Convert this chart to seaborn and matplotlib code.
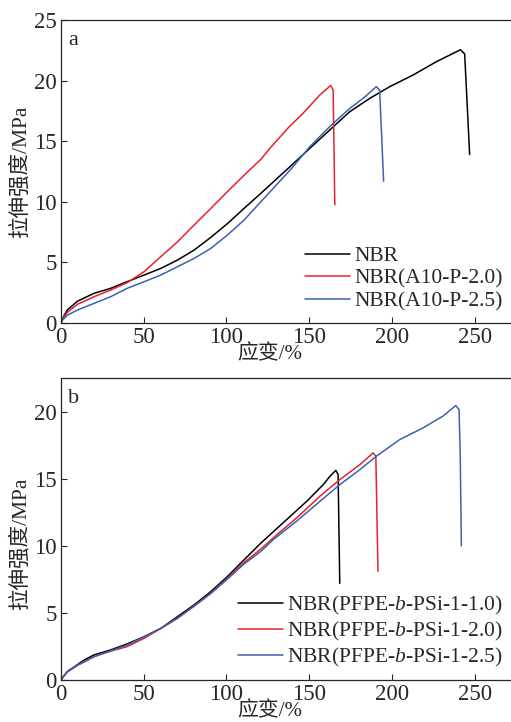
import matplotlib
matplotlib.use("Agg")
import matplotlib.pyplot as plt
import seaborn as sns
import pandas as pd

# ---- data: panel a (strain %, tensile strength MPa) ----
a_nbr_x = [0, 1, 2, 4, 10, 20, 30, 40, 50.3, 60.4, 70.5, 80.5, 90.6, 100.6, 110.7, 120.8,
           137.3, 150.4, 162.4, 174.5, 186.6, 198.7, 212.8, 226.9, 241.5, 244, 247]
a_nbr_y = [0, 0.35, 0.65, 1.1, 1.8, 2.45, 2.86, 3.41, 3.96, 4.51, 5.2, 6.02, 7.07, 8.2, 9.46, 10.7,
           12.76, 14.41, 15.92, 17.43, 18.53, 19.5, 20.46, 21.56, 22.55, 22.2, 13.9]
a_p20_x = [0, 1, 2, 4, 10, 20, 30, 40, 50.3, 60.4, 70.5, 80.5, 90.6, 100.6, 110.7, 120.8,
           126.2, 137.3, 146.3, 156.4, 163.0, 164.5, 165.5]
a_p20_y = [0, 0.3, 0.55, 0.9, 1.55, 2.17, 2.72, 3.33, 4.24, 5.48, 6.71, 8.09, 9.46, 10.84, 12.2, 13.5,
           14.4, 16.1, 17.3, 18.81, 19.6, 19.22, 9.75]
a_p25_x = [0, 1, 2, 4, 10, 20, 30, 40, 50.3, 60.4, 70.5, 80.5, 90.6, 100.6, 110.7, 120.8,
           139.4, 150.4, 162.4, 174.5, 182.6, 190.6, 192.6, 195.0]
a_p25_y = [0, 0.25, 0.4, 0.66, 1.07, 1.62, 2.17, 2.86, 3.41, 3.96, 4.65, 5.33, 6.16, 7.26, 8.5, 10.0,
           12.76, 14.55, 16.2, 17.7, 18.53, 19.5, 19.22, 11.7]
a_labels = ["NBR", "NBR(A10-P-2.0)", "NBR(A10-P-2.5)"]

# ---- data: panel b ----
b_10_x = [0, 2, 4, 10, 14, 20, 30, 40, 50.3, 60.4, 70.5, 80.5, 90.6, 100.6, 110.7, 120.8,
          136.3, 148.4, 158.5, 162.5, 166.1, 167.5, 168.5]
b_10_y = [0, 0.35, 0.65, 1.15, 1.49, 1.87, 2.24, 2.69, 3.23, 3.85, 4.73, 5.6, 6.59, 7.71, 8.96, 10.2,
          11.94, 13.3, 14.55, 15.17, 15.62, 15.3, 7.2]
b_20_x = [0, 2, 4, 10, 20, 30, 40, 50.3, 60.4, 70.5, 80.5, 90.6, 100.6, 110.7, 120.8,
          128.2, 142.3, 156.4, 168.5, 180.6, 188.7, 190.3, 191.6]
b_20_y = [0, 0.35, 0.62, 1.1, 1.74, 2.15, 2.49, 3.11, 3.85, 4.6, 5.52, 6.47, 7.59, 8.76, 9.76,
          10.58, 12.06, 13.68, 14.93, 16.04, 16.92, 16.67, 8.1]
b_25_x = [0, 2, 4, 10, 20, 30, 40, 50.3, 60.4, 70.5, 80.5, 90.6, 100.6, 110.7, 120.8,
          128.2, 142.3, 156.4, 168.5, 180.6, 190.6, 204.7, 218.8, 230.9, 238.6, 240.6, 241.3, 242]
b_25_y = [0, 0.35, 0.62, 1.1, 1.74, 2.18, 2.6, 3.23, 3.85, 4.62, 5.5, 6.45, 7.52, 8.65, 9.58,
          10.45, 11.82, 13.3, 14.55, 15.67, 16.67, 17.91, 18.78, 19.66, 20.45, 20.15, 16.9, 10.0]
b_labels = [r"NBR(PFPE-$\it{b}$-PSi-1-1.0)", r"NBR(PFPE-$\it{b}$-PSi-1-2.0)", r"NBR(PFPE-$\it{b}$-PSi-1-2.5)"]

x_ticks = [0, 50, 100, 150, 200, 250]
a_yticks = [0, 5, 10, 15, 20, 25]
b_yticks = [0, 5, 10, 15, 20]
colors = ["#000000", "#e8202a", "#3a62b0"]

sns.set_style("ticks")
plt.rcParams['font.family'] = ['Liberation Serif', 'Noto Sans CJK SC']
plt.rcParams['mathtext.fontset'] = 'custom'
plt.rcParams['mathtext.rm'] = 'Liberation Serif'
plt.rcParams['mathtext.it'] = 'Liberation Serif:italic'
plt.rcParams['axes.unicode_minus'] = False


def make_df(xs, ys, labels):
    rows = []
    for x, y, lab in zip(xs, ys, labels):
        for i, (xi, yi) in enumerate(zip(x, y)):
            rows.append({"strain": xi, "stress": yi, "sample": lab, "order": i})
    return pd.DataFrame(rows)


fig = plt.figure(figsize=(5.11, 7.22), dpi=100)
ax1 = fig.add_axes([61/511, 1-323/722, 450/511, 303/722])
ax2 = fig.add_axes([61/511, 1-680/722, 450/511, 302/722])

df_a = make_df([a_nbr_x, a_p20_x, a_p25_x], [a_nbr_y, a_p20_y, a_p25_y], a_labels)
df_b = make_df([b_10_x, b_20_x, b_25_x], [b_10_y, b_20_y, b_25_y], b_labels)

for ax, df, labels, yt, ylim, tag, leg_anchor, ylab_y in [
    (ax1, df_a, a_labels, a_yticks, 25, "a", (1.01, -0.005), 0.5),
    (ax2, df_b, b_labels, b_yticks, 22.5, "b", (1.01, -0.005), 0.45),
]:
    sns.lineplot(data=df, x="strain", y="stress", hue="sample", hue_order=labels,
                 palette=colors, sort=False, estimator=None, linewidth=1.1, ax=ax)
    ax.set_xlim(0, 272)
    ax.set_ylim(0, ylim)
    ax.set_xticks(x_ticks)
    ax.set_yticks(yt)
    ax.tick_params(direction="in", length=4, width=0.8, labelsize=16.5, pad=3)
    ax.spines["right"].set_visible(False)
    for s in ["left", "bottom", "top"]:
        ax.spines[s].set_linewidth(0.9)
    ax.set_xlabel("应变/%", fontsize=15, labelpad=0)
    ax.xaxis.set_label_coords(0.464, -0.072)
    ax.set_ylabel("拉伸强度/MPa", fontsize=15.5, labelpad=1)
    ax.yaxis.set_label_coords(-0.068, ylab_y)
    ax.text(0.016, 0.965, tag, transform=ax.transAxes, fontsize=16, va="top", ha="left")
    leg = ax.legend(loc="lower right", bbox_to_anchor=leg_anchor, frameon=False,
                    fontsize=15.5, handlelength=2.1, handletextpad=0.2, labelspacing=0.12,
                    borderaxespad=0.2)

fig.savefig("out.png", dpi=100)
